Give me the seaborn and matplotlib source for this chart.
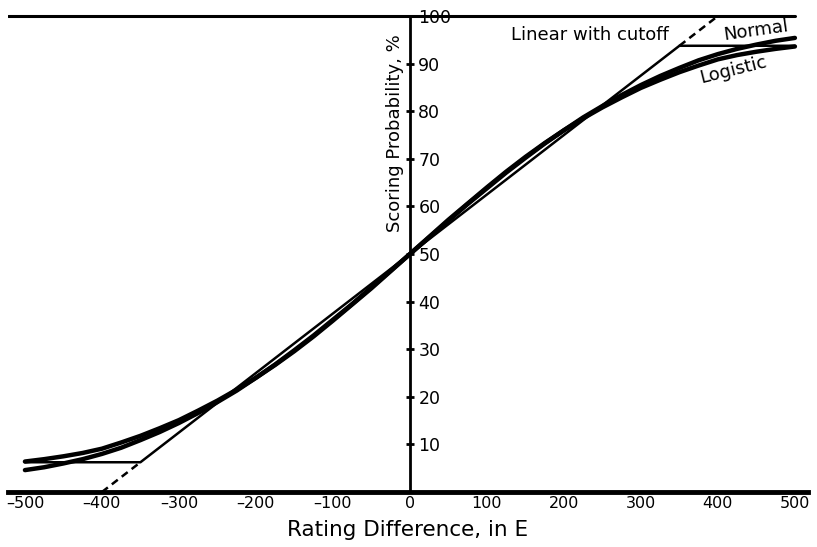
import matplotlib
matplotlib.use("Agg")
import matplotlib.pyplot as plt
import seaborn as sns
import pandas as pd

sns.set_style("white")
plt.rcParams['font.family'] = ['DejaVu Sans']
for k in ['text.color', 'axes.labelcolor', 'xtick.color', 'ytick.color']:
    plt.rcParams[k] = 'black'

# rating difference (E) and scoring probability (%)
diff = list(range(-500, 525, 25))
normal = [4.6, 5.2, 6.0, 6.9, 8.0, 9.3, 10.9, 12.6, 14.5, 16.6, 18.9, 21.3,
          24.0, 26.8, 29.8, 32.9, 36.2, 39.5, 43.0, 46.5, 50.0,
          53.5, 57.0, 60.5, 63.8, 67.1, 70.2, 73.2, 76.0, 78.7, 81.1, 83.4,
          85.5, 87.4, 89.1, 90.7, 92.0, 93.1, 94.0, 94.8, 95.4]
logistic = [6.4, 6.9, 7.5, 8.2, 9.1, 10.4, 11.8, 13.4, 15.1, 17.1, 19.2, 21.5,
            24.0, 26.7, 29.6, 32.7, 36.0, 39.4, 42.8, 46.4, 50.0,
            53.6, 57.2, 60.6, 64.0, 67.3, 70.4, 73.3, 76.0, 78.5, 80.8, 82.9,
            84.9, 86.6, 88.2, 89.6, 90.9, 91.8, 92.5, 93.1, 93.6]
linear_x = [-500, -350, 350, 500]
linear_y = [6.25, 6.25, 93.75, 93.75]
dash_lo_x, dash_lo_y = [-400, -350], [0, 6.25]
dash_hi_x, dash_hi_y = [350, 400], [93.75, 100]
xticks = [-500, -400, -300, -200, -100, 0, 100, 200, 300, 400, 500]
yticks = [10, 20, 30, 40, 50, 60, 70, 80, 90, 100]

df = pd.DataFrame({"diff": diff, "Normal": normal, "Logistic": logistic})

fig = plt.figure(figsize=(8.17, 5.47), dpi=100)
ax = fig.add_axes([8 / 817, 55 / 547, 800 / 817, 485.5 / 547])

sns.lineplot(data=df, x="diff", y="Normal", color="black", lw=3.2, ax=ax)
sns.lineplot(data=df, x="diff", y="Logistic", color="black", lw=3.2, ax=ax)
sns.lineplot(x=linear_x, y=linear_y, color="black", lw=1.8, ax=ax)
ax.plot(dash_lo_x, dash_lo_y, color="black", lw=1.8, ls=(0, (3, 2)))
ax.plot(dash_hi_x, dash_hi_y, color="black", lw=1.8, ls=(0, (3, 2)))
ax.plot([-522, 500], [100, 100], color="black", lw=2.2)

ax.set_xlim(-522, 517)
ax.set_ylim(0, 102)

for s in ["top", "left"]:
    ax.spines[s].set_visible(False)
ax.spines["bottom"].set_linewidth(3.5)
ax.spines["bottom"].set_color("black")
ax.spines["right"].set_position(("data", 0))
ax.spines["right"].set_linewidth(2)
ax.spines["right"].set_color("black")
ax.spines["right"].set_bounds(0, 100)

ax.set_xticks(xticks)
ax.set_xticklabels([f"{t}".replace("-", "\u2013") for t in xticks])
ax.tick_params(axis="x", direction="in", length=6, width=1.6, pad=3,
               labelsize=11.5)
ax.yaxis.set_ticks_position("right")
ax.set_yticks(yticks)
ax.tick_params(axis="y", direction="inout", length=6, width=2, pad=3,
               labelsize=12.5)
for lab in ax.get_yticklabels():
    lab.set_bbox(dict(facecolor="white", edgecolor="none", pad=0.5))

ax.set_xlabel("Rating Difference, in E", fontsize=15.5, labelpad=6)
ax.set_ylabel("")
ax.text(-19, 75.5, "Scoring Probability, %", rotation=90, fontsize=13,
        ha="center", va="center")

ax.text(234, 96, "Linear with cutoff", fontsize=13, ha="center", va="center")
ax.text(449, 97, "Normal", fontsize=13, ha="center", va="center", rotation=8)
ax.text(420, 88.7, "Logistic", fontsize=13, ha="center", va="center",
        rotation=14)

plt.savefig("out.png", dpi=100)
